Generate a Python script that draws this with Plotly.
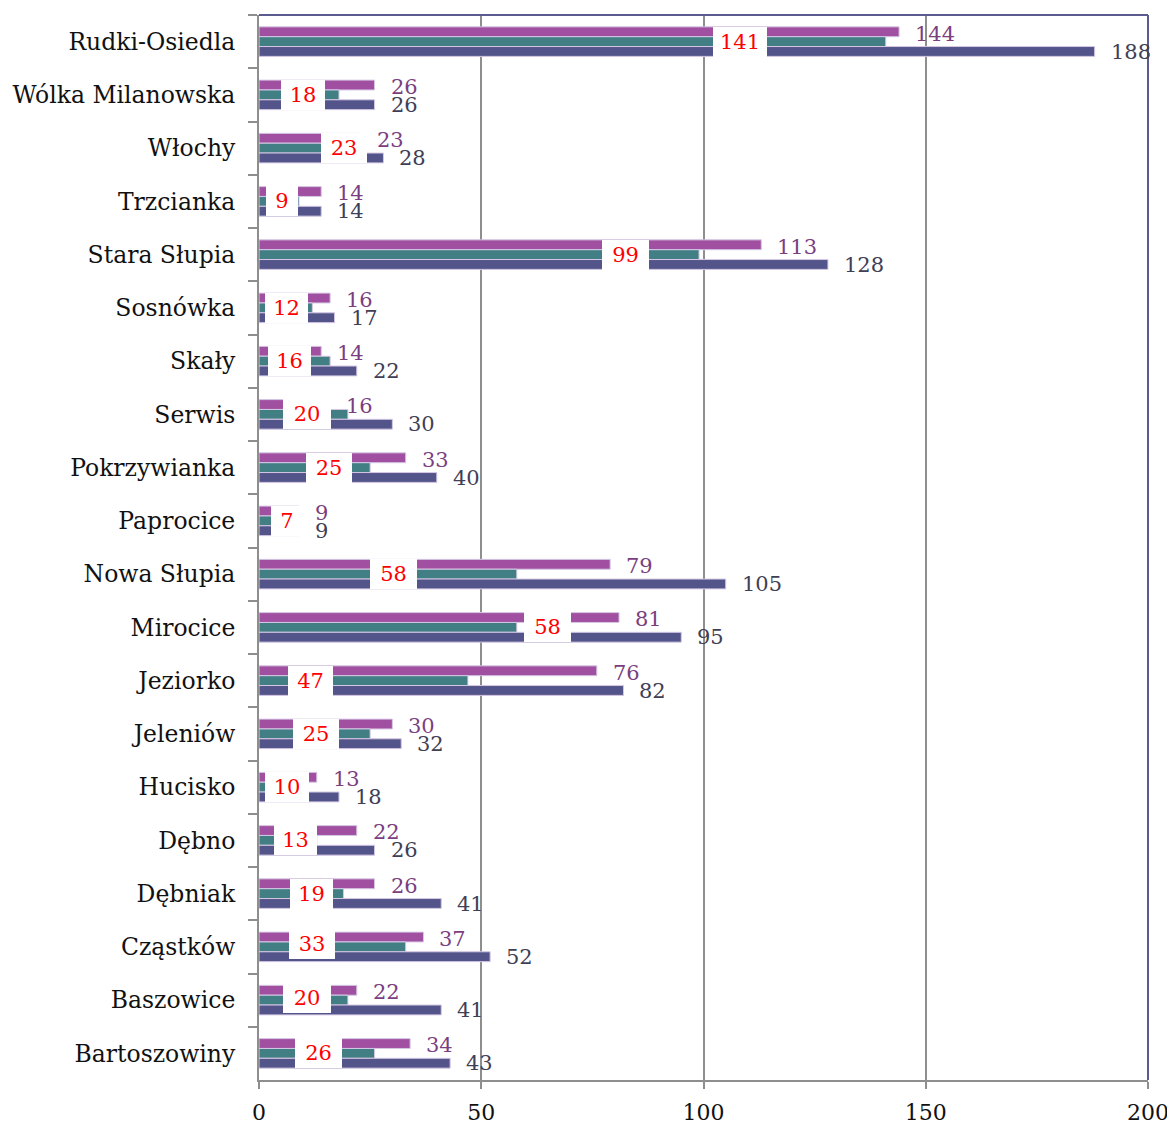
import plotly.graph_objects as go

# ---------------- data ----------------
categories = ["Rudki-Osiedla", "Wólka Milanowska", "Włochy", "Trzcianka", "Stara Słupia",
              "Sosnówka", "Skały", "Serwis", "Pokrzywianka", "Paprocice", "Nowa Słupia",
              "Mirocice", "Jeziorko", "Jeleniów", "Hucisko", "Dębno", "Dębniak",
              "Cząstków", "Baszowice", "Bartoszowiny"]
series_purple = [144, 26, 23, 14, 113, 16, 14, 16, 33, 9, 79, 81, 76, 30, 13, 22, 26, 37, 22, 34]
series_teal = [141, 18, 23, 9, 99, 12, 16, 20, 25, 7, 58, 58, 47, 25, 10, 13, 19, 33, 20, 26]
series_blue = [188, 26, 28, 14, 128, 17, 22, 30, 40, 9, 105, 95, 82, 32, 18, 26, 41, 52, 41, 43]
x_ticks = [0, 50, 100, 150, 200]

# ---------------- label layout (positions of the red value boxes) ----------------
red_label_x = [108.3, 9.9, 19.1, 5.2, 82.4, 6.2, 6.8, 10.8, 15.7, 6.3, 30.3, 64.9,
               11.5, 12.8, 6.3, 8.2, 11.9, 11.9, 10.8, 13.4]
red_label_w = [54, 44, 46, 32, 47, 43, 43, 48, 46, 32, 47, 47, 45, 46, 44, 43, 43, 46, 48, 47]
red_label_dy = [0, 0, 0, 0, 0, 0, 0, 0, 0, 0, 0, 0, 0, 0, 0, 0, 0, 2.5, 2.5, 0]

FONT = "DejaVu Serif"
C_PURPLE = "#A14FA0"
C_TEAL = "#427F84"
C_BLUE = "#53558A"
GRID = "#8E8E8E"
FRAME = "#5B5B8F"

fig = go.Figure()
for vals, col, name in [(series_purple, C_PURPLE, "A"), (series_teal, C_TEAL, "B"),
                        (series_blue, C_BLUE, "C")]:
    fig.add_trace(go.Bar(
        y=categories, x=vals, orientation="h", name=name,
        marker=dict(color=col, line=dict(color="#D5C8E4", width=1)),
    ))

annotations = []
for i, cat in enumerate(categories):
    annotations.append(dict(
        x=red_label_x[i], y=cat, xref="x", yref="y", text=str(series_teal[i]),
        showarrow=False, xanchor="center", yanchor="middle",
        font=dict(family=FONT, size=21, color="#FF0000"),
        bgcolor="white", width=red_label_w[i], height=30,
        borderpad=0, borderwidth=0, yshift=red_label_dy[i],
    ))
    annotations.append(dict(
        x=series_purple[i], y=cat, xref="x", yref="y", text=str(series_purple[i]),
        showarrow=False, xanchor="left", yanchor="middle", xshift=14, yshift=8,
        font=dict(family=FONT, size=21, color="#7B3F7F"),
    ))
    annotations.append(dict(
        x=series_blue[i], y=cat, xref="x", yref="y", text=str(series_blue[i]),
        showarrow=False, xanchor="left", yanchor="middle", xshift=14, yshift=-10,
        font=dict(family=FONT, size=21, color="#3F3F55"),
    ))

fig.update_layout(
    width=1167, height=1116,
    margin=dict(l=251, r=27, t=7, b=44),
    barmode="group", bargap=0.446, bargroupgap=0,
    showlegend=False,
    plot_bgcolor="white", paper_bgcolor="white",
    annotations=annotations,
    shapes=[
        dict(type="line", xref="paper", yref="paper", x0=0, x1=1, y0=1, y1=1,
             line=dict(color=FRAME, width=2)),
        dict(type="line", xref="paper", yref="paper", x0=1, x1=1, y0=0, y1=1,
             line=dict(color=FRAME, width=2)),
    ],
)
fig.update_xaxes(
    range=[0, 200], tickvals=x_ticks, ticktext=[str(t) for t in x_ticks],
    showgrid=True, gridcolor=GRID, gridwidth=2, zeroline=False,
    showline=True, linecolor=GRID, linewidth=2,
    ticks="outside", ticklen=7, tickwidth=2, tickcolor=GRID,
    tickfont=dict(family=FONT, size=22, color="#111111"),
    ticklabelstandoff=5,
    layer="above traces", automargin=False,
)
fig.update_yaxes(
    type="category", categoryorder="array", categoryarray=categories,
    autorange="reversed", showgrid=False,
    showline=True, linecolor=GRID, linewidth=2,
    ticks="outside", tickson="boundaries", ticklen=9, tickwidth=2, tickcolor=GRID,
    tickfont=dict(family=FONT, size=23.5, color="#111111"),
    ticklabelstandoff=17, automargin=False,
)

fig.write_html("out.html")
